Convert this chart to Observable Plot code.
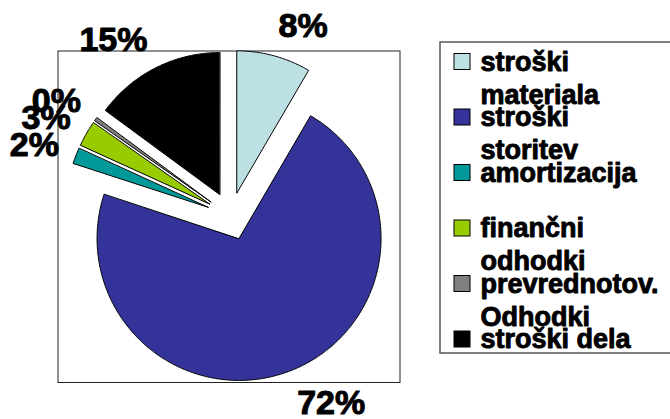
<!DOCTYPE html>
<html><head><meta charset="utf-8">
<script src="https://cdn.jsdelivr.net/npm/d3@7"></script>
<script src="https://cdn.jsdelivr.net/npm/@observablehq/plot@0.6"></script>
<style>body{margin:0;background:#fff;}</style>
</head><body><div id="chart"></div>
<script>
// ---- data ----
const categories = ["stroški materiala", "stroški storitev", "amortizacija", "finančni odhodki", "prevrednotov. Odhodki", "stroški dela"];
const values = [8.4, 71.6, 1.8, 2.9, 0.4, 14.9];
const pctLabels = ["8%", "72%", "2%", "3%", "0%", "15%"];
const legendLine1 = ["stroški", "stroški", "amortizacija", "finančni", "prevrednotov.", "stroški dela"];
const legendLine2 = ["materiala", "storitev", "", "odhodki", "Odhodki", ""];
const colors = ["#BCE0E3", "#333399", "#009999", "#99CC00", "#808080", "#000000"];

// ---- layout ----
const W = 670, H = 419;
const cx = 230, cy = 215.5, R = 142, explode = 24, gap = 18;
const font = "'Liberation Sans', Arial, sans-serif";

const arcs = d3.pie().sort(null).value(d => d)(values);
const pts = [];
const labs = [];
arcs.forEach((a, i) => {
  const mid = (a.startAngle + a.endAngle) / 2;
  const ox = cx + explode * Math.sin(mid), oy = cy - explode * Math.cos(mid);
  pts.push({cat: categories[i], x: ox, y: oy});
  const n = Math.max(2, Math.ceil((a.endAngle - a.startAngle) / 0.01));
  for (let k = 0; k <= n; k++) {
    const t = a.startAngle + (a.endAngle - a.startAngle) * k / n;
    pts.push({cat: categories[i], x: ox + R * Math.sin(t), y: oy - R * Math.cos(t)});
  }
  const lr = R + explode + gap + (Math.cos(mid) < 0 ? 3 : 0);
  labs.push({
    text: pctLabels[i],
    side: Math.sin(mid) >= 0 ? "right" : "left",
    x: cx + lr * Math.sin(mid),
    y: cy - lr * Math.cos(mid) - Math.cos(mid) * 13
  });
});

const leg = categories.map((c, i) => ({cat: c, l1: legendLine1[i], l2: legendLine2[i], yc: 61.5 + i * 55.5}));

const labelStyle = {fontSize: 34, fontWeight: "bold", fontFamily: font, fill: "#000", stroke: "#000", strokeWidth: 1, lineAnchor: "middle"};
const legStyle = {fontSize: 27, fontWeight: "bold", fontFamily: font, fill: "#000", stroke: "#000", strokeWidth: 0.9, lineAnchor: "middle", textAnchor: "start"};

const chart = Plot.plot({
  width: W, height: H, margin: 0,
  x: {domain: [0, W], range: [0, W]},
  y: {domain: [0, H], range: [0, H]},
  axis: null,
  color: {domain: categories, range: colors},
  marks: [
    Plot.rect([{}], {x1: 58, x2: 400, y1: 51, y2: 382.5, fill: "none", stroke: "#222", strokeWidth: 1}),
    Plot.line(pts, {x: "x", y: "y", z: "cat", fill: "cat", stroke: "#000", strokeWidth: 1, curve: "linear-closed"}),
    Plot.text(labs.filter(d => d.side === "right"), {x: "x", y: "y", text: "text", textAnchor: "start", ...labelStyle}),
    Plot.text(labs.filter(d => d.side === "left"), {x: "x", y: "y", text: "text", textAnchor: "end", ...labelStyle}),
    // legend
    Plot.rect([{}], {x1: 440, x2: 690, y1: 42, y2: 353, fill: "#fff", stroke: "#555", strokeWidth: 1.5}),
    Plot.rect(leg, {x1: 454, x2: 470, y1: d => d.yc - 8, y2: d => d.yc + 8, fill: "cat", stroke: "#000", strokeWidth: 1}),
    Plot.text(leg, {x: 480, y: "yc", text: "l1", ...legStyle}),
    Plot.text(leg, {x: 480, y: d => d.yc + 33, text: "l2", ...legStyle})
  ]
});
document.getElementById("chart").appendChild(chart);
</script>
</body></html>
